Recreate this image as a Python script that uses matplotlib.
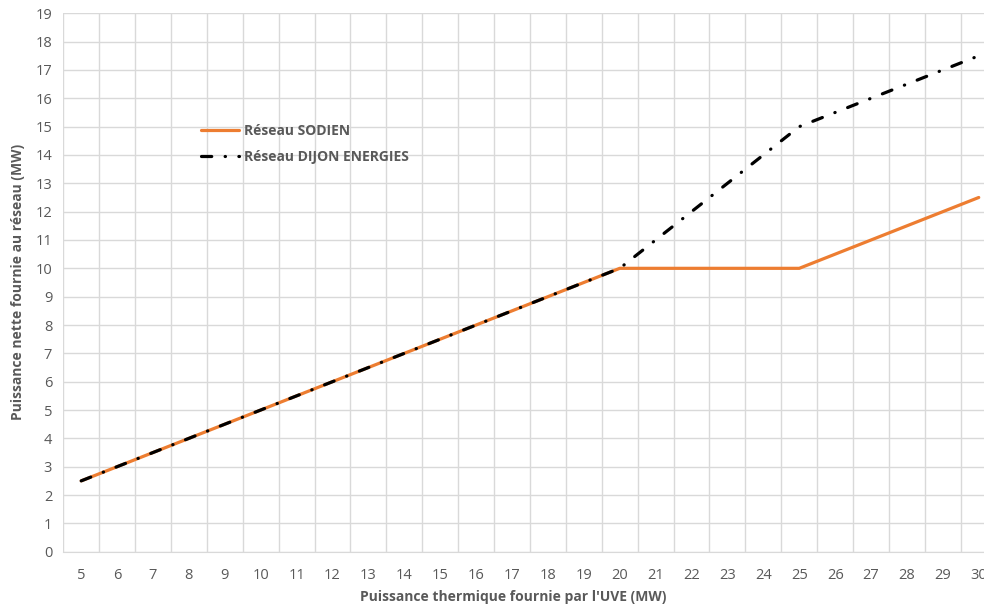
import matplotlib
matplotlib.use("Agg")
import matplotlib.pyplot as plt

# data
x_labels = [str(v) for v in range(5, 31)]
sodien = [2.5, 3, 3.5, 4, 4.5, 5, 5.5, 6, 6.5, 7, 7.5, 8, 8.5, 9, 9.5, 10,
          10, 10, 10, 10, 10, 10.5, 11, 11.5, 12, 12.5]
dijon = [2.5, 3, 3.5, 4, 4.5, 5, 5.5, 6, 6.5, 7, 7.5, 8, 8.5, 9, 9.5, 10,
         11, 12, 13, 14, 15, 15.5, 16, 16.5, 17, 17.5]
y_ticks = list(range(0, 20))

plt.rcParams['font.family'] = ['Open Sans', 'DejaVu Sans']
TXT = '#595959'
GRID = '#D9D9D9'

fig = plt.figure(figsize=(9.84, 6.07), dpi=100)
ax = fig.add_axes([0.0643, 0.0911, 0.9486, 0.887])

xs = list(range(len(x_labels)))
ax.plot(xs, sodien, color='#ED7D31', lw=2.3, solid_capstyle='round',
        label='Réseau SODIEN', zorder=3)
ax.plot(xs, dijon, color='black', lw=2.3, linestyle=(0, (3.2, 4.2, 0.1, 4.2)),
        dash_capstyle='round', label='Réseau DIJON ENERGIES', zorder=4)

ax.set_xlim(-0.5, len(x_labels) - 0.5)
ax.set_ylim(0, 19)
ax.set_xticks(xs)
ax.set_xticklabels(x_labels)
ax.set_yticks(y_ticks)
ax.set_xticks([i - 0.5 for i in range(len(x_labels) + 1)], minor=True)
ax.grid(False)
ax.grid(True, which='minor', axis='x', color=GRID, lw=1)
ax.grid(True, which='major', axis='y', color=GRID, lw=1)
ax.set_axisbelow(True)
ax.tick_params(which='both', length=0, colors=TXT, labelsize=10.5)
ax.tick_params(axis='x', pad=12)
ax.tick_params(axis='y', pad=8)
for s in ['top', 'right', 'left']:
    ax.spines[s].set_visible(False)
ax.spines['bottom'].set_color(GRID)

fig.text(513 / 984, 1 - 597 / 607, "Puissance thermique fournie par l'UVE (MW)",
         ha='center', va='center', fontsize=10, fontweight='bold', color=TXT)
fig.text(18 / 984, 1 - 282 / 607, "Puissance nette fournie au réseau (MW)",
         ha='center', va='center', rotation=90, fontsize=10,
         fontweight='bold', color=TXT)

leg = ax.legend(loc='upper left', bbox_to_anchor=(0.142, 0.805), frameon=False,
                fontsize=10, handlelength=2.7, handletextpad=0.35,
                labelspacing=0.85, borderaxespad=0)
for t in leg.get_texts():
    t.set_color(TXT)
    t.set_fontweight('bold')

fig.savefig('out.png', dpi=100)
